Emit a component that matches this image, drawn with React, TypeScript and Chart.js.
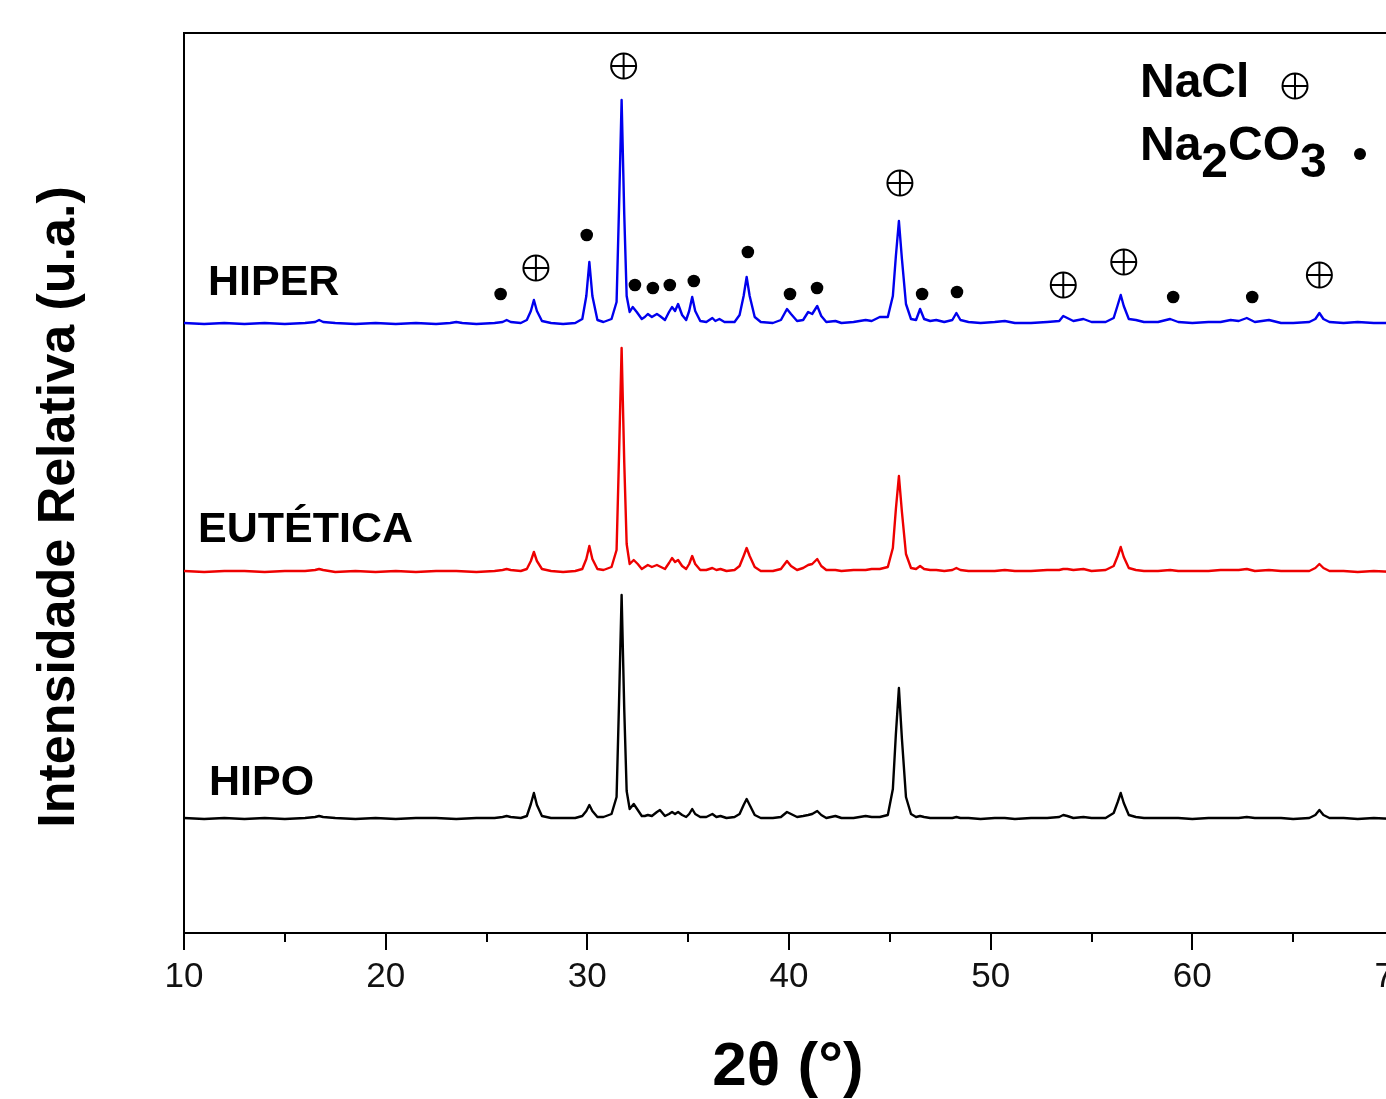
import React, { useEffect, useRef } from 'react';
import { Chart, registerables } from 'chart.js';

Chart.register(...registerables);

// ---- data (2θ in degrees, relative intensity above each pattern's baseline) ----
const X_MAJOR_TICKS = [10, 20, 30, 40, 50, 60, 70];
const X_MINOR_TICKS = [15, 25, 35, 45, 55, 65];
const SERIES_NAMES = ['HIPER', 'EUTÉTICA', 'HIPO'];
const SERIES_OFFSETS = [609, 361, 114];

const HIPER: number[][] = [
  [10, 1], [11, 0], [12, 1], [13, 0], [14, 1], [15, 0], [16, 1], [16.5, 2], [16.7, 4], [16.9, 2], [17.5, 1],
  [18.5, 0], [19.5, 1], [20.5, 0], [21.5, 1], [22.5, 0], [23.2, 1], [23.5, 2], [23.8, 1], [24.5, 0], [25.4, 1],
  [25.8, 2], [26.0, 4], [26.2, 2], [26.7, 1], [27.0, 4], [27.2, 13], [27.35, 24], [27.5, 13], [27.75, 3], [28.2, 1],
  [28.8, 0], [29.4, 1], [29.75, 5], [29.95, 28], [30.1, 62], [30.25, 28], [30.5, 4], [30.8, 2], [31.2, 5],
  [31.45, 22], [31.57, 115], [31.7, 224], [31.83, 110], [31.95, 28], [32.1, 12], [32.25, 17], [32.45, 12],
  [32.7, 5], [32.85, 7], [33.0, 10], [33.2, 7], [33.45, 10], [33.6, 8], [33.85, 4], [34.05, 12], [34.2, 17],
  [34.35, 13], [34.5, 20], [34.7, 9], [34.9, 4], [35.05, 13], [35.2, 27], [35.35, 13], [35.6, 3], [35.9, 2],
  [36.2, 6], [36.35, 3], [36.55, 5], [36.8, 2], [37.3, 2], [37.55, 9], [37.75, 28], [37.9, 47], [38.05, 28],
  [38.3, 7], [38.6, 2], [39.2, 1], [39.6, 4], [39.9, 15], [40.1, 10], [40.4, 3], [40.7, 4], [40.95, 12],
  [41.15, 10], [41.4, 18], [41.6, 8], [41.85, 2], [42.3, 3], [42.6, 1], [43.2, 2], [43.8, 4], [44.1, 3],
  [44.5, 7], [44.9, 7], [45.15, 28], [45.3, 68], [45.45, 103], [45.6, 65], [45.8, 20], [46.05, 5], [46.3, 4],
  [46.5, 15], [46.7, 5], [47.0, 3], [47.3, 4], [47.7, 2], [48.1, 4], [48.3, 11], [48.5, 4], [48.9, 2], [49.5, 1],
  [50.2, 2], [50.7, 3], [51.2, 1], [52.0, 1], [52.8, 2], [53.4, 3], [53.6, 8], [53.8, 6], [54.1, 3], [54.6, 5],
  [55.0, 2], [55.7, 2], [56.1, 6], [56.3, 19], [56.45, 29], [56.6, 18], [56.85, 5], [57.2, 4], [57.6, 2],
  [58.3, 2], [58.9, 5], [59.3, 2], [60.0, 1], [60.8, 2], [61.4, 2], [61.9, 4], [62.3, 3], [62.7, 6], [63.1, 2],
  [63.8, 4], [64.4, 1], [65.0, 1], [65.8, 2], [66.1, 5], [66.3, 11], [66.5, 5], [66.8, 2], [67.5, 1], [68.2, 2],
  [69.0, 1], [70, 1],
];

const EUTETICA: number[][] = [
  [10, 1], [11, 0], [12, 1], [13, 1], [14, 0], [15, 1], [16, 1], [16.5, 2], [16.7, 3], [16.9, 2], [17.5, 0],
  [18.5, 1], [19.5, 0], [20.5, 1], [21.5, 0], [22.5, 1], [23.5, 1], [24.5, 0], [25.4, 1], [25.8, 2], [26.0, 3],
  [26.2, 2], [26.7, 1], [27.0, 3], [27.2, 11], [27.35, 20], [27.5, 11], [27.75, 3], [28.2, 1], [28.8, 0],
  [29.4, 1], [29.75, 3], [29.95, 13], [30.1, 26], [30.25, 13], [30.5, 3], [30.8, 2], [31.2, 5], [31.45, 22],
  [31.57, 115], [31.7, 224], [31.83, 110], [31.95, 28], [32.1, 8], [32.3, 12], [32.5, 8], [32.7, 3], [32.85, 5],
  [33.0, 7], [33.2, 5], [33.45, 7], [33.65, 5], [33.85, 3], [34.05, 9], [34.2, 14], [34.35, 10], [34.5, 12],
  [34.7, 6], [34.9, 3], [35.05, 8], [35.2, 16], [35.35, 8], [35.6, 2], [35.9, 2], [36.2, 4], [36.4, 2],
  [36.6, 3], [36.9, 1], [37.3, 2], [37.55, 6], [37.75, 16], [37.9, 24], [38.05, 16], [38.3, 5], [38.6, 1],
  [39.2, 1], [39.6, 3], [39.9, 11], [40.1, 6], [40.4, 2], [40.7, 4], [40.95, 7], [41.15, 8], [41.4, 13],
  [41.6, 6], [41.85, 2], [42.3, 2], [42.6, 1], [43.2, 2], [43.8, 2], [44.1, 3], [44.5, 3], [44.9, 5],
  [45.15, 24], [45.3, 63], [45.45, 96], [45.6, 60], [45.8, 18], [46.05, 4], [46.3, 3], [46.5, 6], [46.7, 3],
  [47.0, 2], [47.3, 2], [47.7, 1], [48.1, 2], [48.3, 4], [48.5, 2], [48.9, 1], [49.5, 1], [50.2, 1], [50.7, 2],
  [51.2, 1], [52.0, 1], [52.8, 2], [53.4, 2], [53.6, 3], [53.8, 3], [54.1, 2], [54.6, 3], [55.0, 1], [55.7, 2],
  [56.1, 6], [56.3, 16], [56.45, 25], [56.6, 15], [56.85, 4], [57.2, 2], [57.6, 1], [58.3, 1], [58.9, 2],
  [59.3, 1], [60.0, 1], [60.8, 1], [61.4, 2], [61.9, 2], [62.3, 2], [62.7, 3], [63.1, 1], [63.8, 2], [64.4, 1],
  [65.0, 1], [65.8, 1], [66.1, 4], [66.3, 8], [66.5, 4], [66.8, 1], [67.5, 1], [68.2, 0], [69.0, 1], [70, 0],
];

const HIPO: number[][] = [
  [10, 1], [11, 0], [12, 1], [13, 0], [14, 1], [15, 0], [16, 1], [16.5, 2], [16.7, 3], [16.9, 2], [17.5, 1],
  [18.5, 0], [19.5, 1], [20.5, 0], [21.5, 1], [22.5, 1], [23.5, 0], [24.5, 1], [25.4, 1], [25.8, 2], [26.0, 3],
  [26.2, 2], [26.7, 1], [27.0, 3], [27.2, 15], [27.35, 26], [27.5, 14], [27.75, 3], [28.2, 1], [28.8, 1],
  [29.4, 1], [29.75, 3], [29.95, 8], [30.1, 14], [30.25, 8], [30.5, 2], [30.8, 2], [31.2, 5], [31.45, 22],
  [31.57, 115], [31.7, 224], [31.83, 110], [31.95, 28], [32.1, 10], [32.3, 15], [32.5, 9], [32.7, 3],
  [32.85, 3], [33.0, 4], [33.2, 3], [33.45, 7], [33.6, 9], [33.85, 3], [34.05, 5], [34.2, 7], [34.35, 5],
  [34.5, 7], [34.7, 4], [34.9, 2], [35.05, 5], [35.2, 10], [35.35, 5], [35.6, 2], [35.9, 2], [36.2, 5],
  [36.4, 2], [36.6, 3], [36.9, 1], [37.3, 2], [37.55, 5], [37.75, 14], [37.9, 20], [38.05, 14], [38.3, 4],
  [38.6, 1], [39.2, 1], [39.6, 2], [39.9, 7], [40.1, 5], [40.4, 2], [40.7, 3], [40.95, 4], [41.15, 5],
  [41.4, 8], [41.6, 4], [41.85, 1], [42.3, 3], [42.6, 1], [43.2, 1], [43.8, 3], [44.1, 2], [44.5, 2],
  [44.9, 4], [45.15, 30], [45.3, 85], [45.45, 131], [45.6, 80], [45.8, 22], [46.05, 5], [46.3, 2], [46.5, 3],
  [46.7, 2], [47.0, 1], [47.3, 1], [47.7, 1], [48.1, 1], [48.3, 2], [48.5, 1], [48.9, 1], [49.5, 0], [50.2, 1],
  [50.7, 1], [51.2, 0], [52.0, 1], [52.8, 1], [53.4, 2], [53.6, 4], [53.8, 3], [54.1, 1], [54.6, 2], [55.0, 1],
  [55.7, 1], [56.1, 6], [56.3, 17], [56.45, 26], [56.6, 16], [56.85, 4], [57.2, 2], [57.6, 1], [58.3, 1],
  [58.9, 1], [59.3, 1], [60.0, 0], [60.8, 1], [61.4, 1], [61.9, 1], [62.3, 1], [62.7, 2], [63.1, 1], [63.8, 1],
  [64.4, 1], [65.0, 0], [65.8, 1], [66.1, 4], [66.3, 9], [66.5, 4], [66.8, 1], [67.5, 1], [68.2, 0], [69.0, 1],
  [70, 0],
];

// phase markers above the HIPER pattern (2θ, height above HIPER baseline)
const NACL_MARKS: number[][] = [
  [27.45, 56], [31.8, 258], [45.5, 141], [53.6, 39], [56.6, 62], [66.3, 49],
];
const NA2CO3_MARKS: number[][] = [
  [25.7, 30], [29.97, 89], [32.36, 39], [33.25, 36], [34.09, 39], [35.28, 43], [37.96, 72],
  [40.05, 30], [41.39, 36], [46.6, 30], [48.33, 32], [59.05, 27], [62.97, 27],
];

const SERIES_DATA = [HIPER, EUTETICA, HIPO];
const SERIES_COLORS = ['#0000EE', '#EE0000', '#000000'];

const FONT = '"Liberation Sans", Arial, Helvetica, sans-serif';
const CANVAS_W = 1440;
const CANVAS_H = 1099;

const overlayPlugin = {
  id: 'overlay',
  afterDraw(chart: any) {
    const { ctx, chartArea, scales } = chart;
    const xs = scales.x;
    ctx.save();
    ctx.strokeStyle = '#000';
    ctx.lineWidth = 2;
    // top + right frame
    ctx.beginPath();
    ctx.moveTo(chartArea.left, chartArea.top);
    ctx.lineTo(chartArea.right, chartArea.top);
    ctx.lineTo(chartArea.right, chartArea.bottom);
    ctx.stroke();
    // minor ticks
    X_MINOR_TICKS.forEach((v) => {
      const px = Math.round(xs.getPixelForValue(v));
      ctx.beginPath();
      ctx.moveTo(px, chartArea.bottom);
      ctx.lineTo(px, chartArea.bottom + 9);
      ctx.stroke();
    });

    ctx.fillStyle = '#000';
    ctx.textBaseline = 'alphabetic';
    ctx.textAlign = 'left';
    // series labels
    ctx.font = `bold 43px ${FONT}`;
    ctx.fillText(SERIES_NAMES[0], 208, 295);
    ctx.fillText(SERIES_NAMES[1], 198, 542);
    ctx.fillText(SERIES_NAMES[2], 209, 795);

    // legend
    ctx.font = `bold 48px ${FONT}`;
    ctx.fillText('NaCl', 1140, 97);
    ctx.lineWidth = 2;
    ctx.beginPath();
    ctx.arc(1295, 86, 12.5, 0, Math.PI * 2);
    ctx.moveTo(1282.5, 86);
    ctx.lineTo(1307.5, 86);
    ctx.moveTo(1295, 73.5);
    ctx.lineTo(1295, 98.5);
    ctx.stroke();

    let x = 1140;
    ctx.fillText('Na', x, 160);
    x += ctx.measureText('Na').width;
    ctx.fillText('2', x, 177);
    x += ctx.measureText('2').width;
    ctx.fillText('CO', x, 160);
    x += ctx.measureText('CO').width;
    ctx.fillText('3', x, 177);
    ctx.beginPath();
    ctx.arc(1360, 154, 6, 0, Math.PI * 2);
    ctx.fill();

    // axis titles
    ctx.textAlign = 'center';
    ctx.textBaseline = 'middle';
    ctx.font = `bold 62px ${FONT}`;
    ctx.fillText('2θ (°)', 788, 1068);

    ctx.save();
    ctx.translate(60, 507);
    ctx.rotate(-Math.PI / 2);
    ctx.font = `bold 52px ${FONT}`;
    ctx.fillText('Intensidade Relativa (u.a.)', 0, 0);
    ctx.restore();

    ctx.restore();
  },
};

export default function App() {
  const canvasRef = useRef<HTMLCanvasElement | null>(null);

  useEffect(() => {
    if (!canvasRef.current) return;
    Chart.defaults.font.family = FONT;

    const lineSets = SERIES_DATA.map((pts, i) => ({
      label: SERIES_NAMES[i],
      data: pts.map(([x, y]) => ({ x, y: y + SERIES_OFFSETS[i] })),
      showLine: true,
      borderColor: SERIES_COLORS[i],
      backgroundColor: SERIES_COLORS[i],
      borderWidth: 2.4,
      borderJoinStyle: 'round',
      pointRadius: 0,
      tension: 0,
      order: 2,
    }));

    const naclData = NACL_MARKS.map(([x, y]) => ({ x, y: y + SERIES_OFFSETS[0] }));
    const carbData = NA2CO3_MARKS.map(([x, y]) => ({ x, y: y + SERIES_OFFSETS[0] }));

    const chart = new Chart(canvasRef.current, {
      type: 'scatter',
      data: {
        datasets: [
          ...lineSets,
          {
            label: 'NaCl',
            data: naclData,
            pointStyle: 'circle',
            pointRadius: 12.5,
            backgroundColor: 'rgba(255,255,255,0)',
            borderColor: '#000',
            borderWidth: 2,
            order: 1,
          },
          {
            label: 'NaCl +',
            data: naclData,
            pointStyle: 'cross',
            pointRadius: 12.5,
            borderColor: '#000',
            borderWidth: 2,
            order: 1,
          },
          {
            label: 'Na2CO3',
            data: carbData,
            pointStyle: 'circle',
            pointRadius: 6.3,
            backgroundColor: '#000',
            borderColor: '#000',
            borderWidth: 0,
            order: 1,
          },
        ] as any,
      },
      options: {
        responsive: false,
        animation: false,
        events: [],
        layout: { padding: { top: 33, right: CANVAS_W - 1394, left: 0, bottom: 0 } },
        plugins: { legend: { display: false }, tooltip: { enabled: false } },
        scales: {
          x: {
            type: 'linear',
            min: 10,
            max: 70,
            afterFit: (s: any) => { s.height = CANVAS_H - 933; },
            afterBuildTicks: (s: any) => { s.ticks = X_MAJOR_TICKS.map((v) => ({ value: v })); },
            ticks: {
              color: '#111',
              font: { size: 35 },
              padding: 6,
              maxRotation: 0,
              callback: (v: any) => String(v),
            },
            grid: {
              drawOnChartArea: false,
              drawTicks: true,
              tickLength: 17,
              tickColor: '#000',
              tickWidth: 2,
              lineWidth: 2,
              color: '#000',
            },
            border: { display: true, color: '#000', width: 2 },
          },
          y: {
            type: 'linear',
            min: 0,
            max: 900,
            afterFit: (s: any) => { s.width = 184; },
            ticks: { display: false },
            grid: { display: false, drawTicks: false },
            border: { display: true, color: '#000', width: 2 },
          },
        },
      },
      plugins: [overlayPlugin],
    });

    return () => chart.destroy();
  }, []);

  return (
    <div
      style={{
        position: 'fixed',
        left: 0,
        top: 0,
        width: '100vw',
        height: '100vh',
        overflow: 'hidden',
        background: '#fff',
      }}
    >
      <canvas ref={canvasRef} width={CANVAS_W} height={CANVAS_H} style={{ display: 'block' }} />
    </div>
  );
}
